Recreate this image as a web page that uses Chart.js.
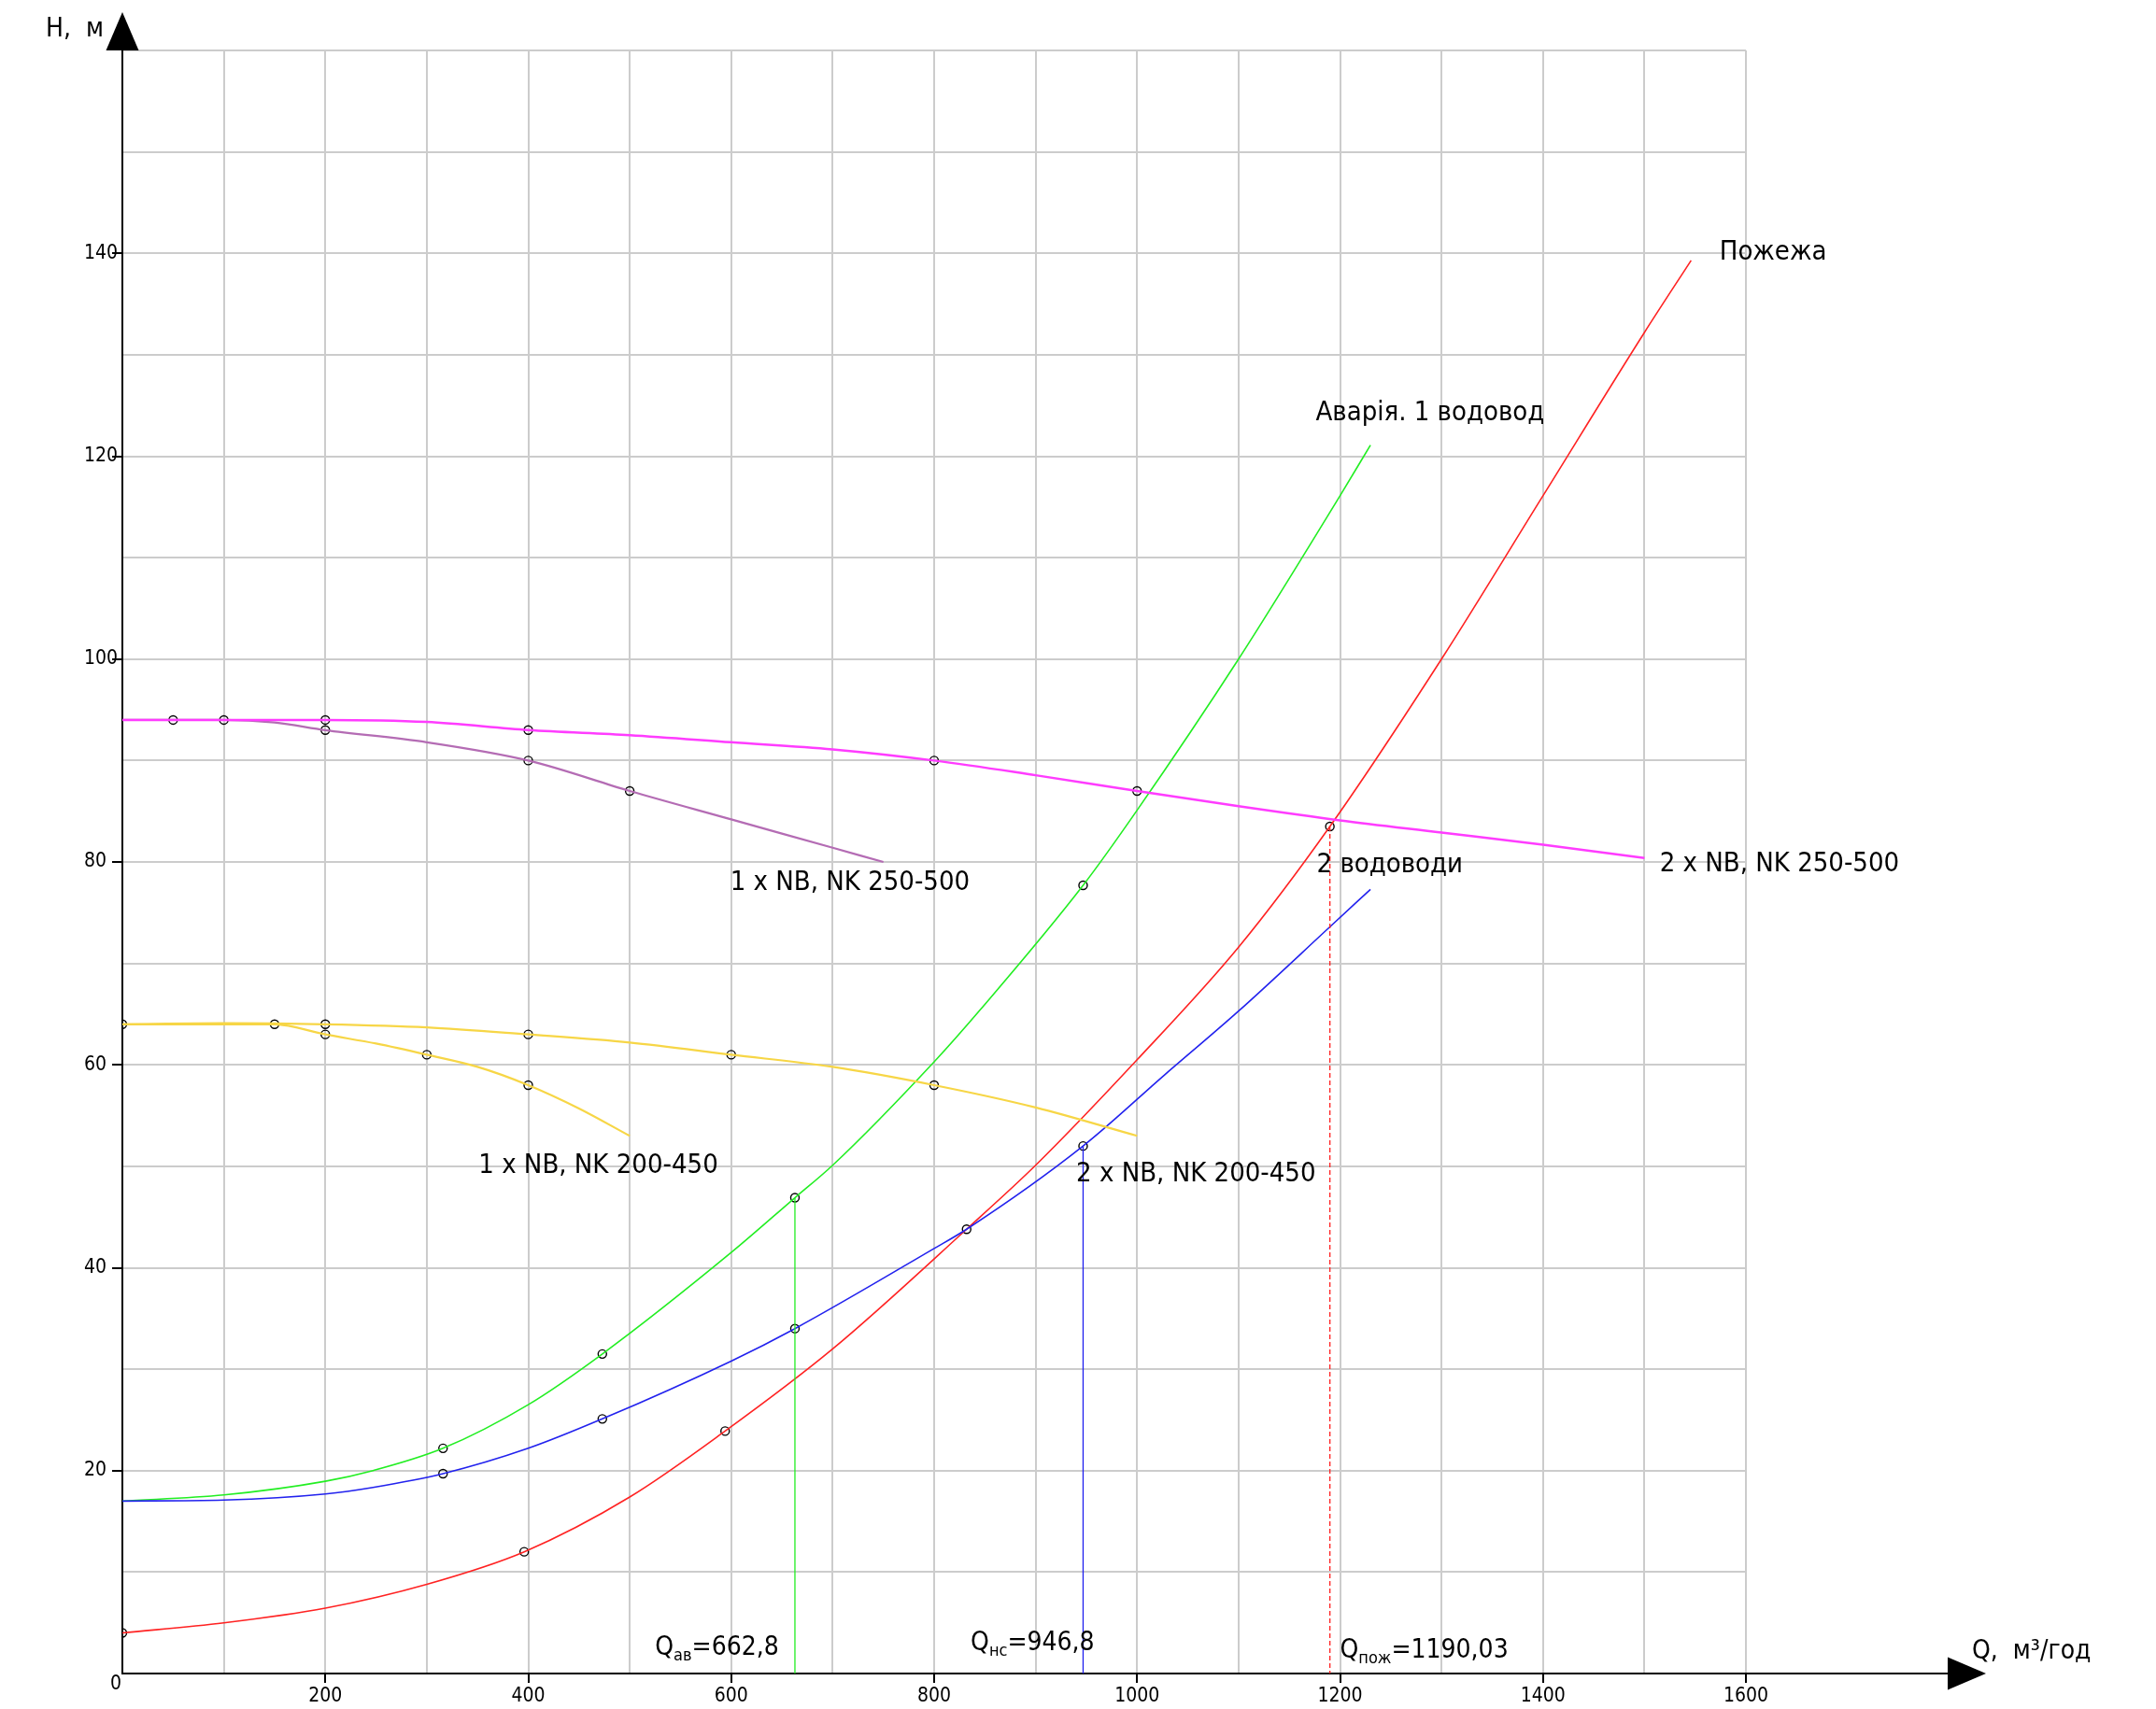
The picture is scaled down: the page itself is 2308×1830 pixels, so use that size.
<!DOCTYPE html>
<html>
<head>
<meta charset="utf-8">
<script src="https://cdn.jsdelivr.net/npm/chart.js@4.4.1/dist/chart.umd.min.js"></script>
<style>
  body { margin: 0; background: #fff; }
  #wrap { width: 2308px; height: 1830px; }
</style>
</head>
<body>
<div id="wrap"><canvas id="chart" width="2308" height="1830"></canvas></div>
<script>
// Q, м3/год  ->  H, м
const pozhezhaQ = [0, 100, 200, 300, 396, 500, 594, 700, 832, 900, 1000, 1100, 1190, 1300, 1400, 1500, 1546];
const pozhezhaH = [4.0, 5.0, 6.45, 8.8, 12.0, 17.4, 23.9, 32.0, 43.8, 50.1, 60.5, 71.6, 83.5, 100.0, 116.1, 132.2, 139.3];

const avariyaQ = [0, 100, 200, 247, 316, 400, 473, 600, 662.8, 700, 800, 846, 946.8, 1000, 1100, 1200, 1230];
const avariyaH = [17.0, 17.6, 18.95, 20.0, 22.2, 26.5, 31.5, 41.5, 46.9, 50.1, 60.3, 65.5, 77.7, 85.1, 100.0, 116.1, 121.1];

const dvaVodovodyQ = [0, 100, 200, 247, 316, 400, 473, 600, 662.8, 800, 832, 946.8, 1027, 1100, 1190, 1230];
const dvaVodovodyH = [17.0, 17.1, 17.7, 18.35, 19.7, 22.2, 25.1, 30.8, 34.0, 41.9, 43.8, 52.0, 59.0, 65.3, 73.6, 77.3];

const nk250x2Q = [0, 100, 200, 300, 400, 500, 600, 700, 800, 900, 1000, 1100, 1200, 1300, 1400, 1500];
const nk250x2H = [94, 94, 94, 93.8, 93, 92.5, 91.8, 91.1, 90, 88.55, 87, 85.5, 84.1, 82.9, 81.7, 80.4];

const nk250x1Q = [0, 50, 100, 150, 200, 300, 400, 500, 600, 700, 750];
const nk250x1H = [94, 94, 94, 93.75, 93, 91.8, 90, 87, 84.2, 81.4, 80.0];

const nk200x2Q = [0, 100, 200, 300, 400, 500, 600, 700, 800, 900, 1000];
const nk200x2H = [64, 64.1, 64, 63.7, 63, 62.2, 61, 59.8, 58, 55.8, 53.0];

const nk200x1Q = [0, 150, 200, 250, 300, 350, 400, 450, 500];
const nk200x1H = [64, 64, 63, 62.1, 61, 59.8, 58, 55.7, 53.0];

// circled points
const markerQ = [50, 100, 200, 200, 400, 400, 500, 800, 1000,
                 0, 150, 200, 200, 300, 400, 400, 600, 800,
                 316, 473, 662.8, 946.8,
                 316, 473, 662.8, 832, 946.8,
                 0, 396, 594, 1190];
const markerH = [94, 94, 94, 93, 93, 90, 87, 90, 87,
                 64, 64, 64, 63, 61, 63, 58, 61, 58,
                 22.2, 31.5, 46.9, 77.7,
                 19.7, 25.1, 34.0, 43.8, 52.0,
                 4.0, 12.0, 23.9, 83.5];

// operating points: Q_ав, Q_нс, Q_пож
const opNames = ['ав', 'нс', 'пож'];
const opQ = [662.8, 946.8, 1190.03];
const opH = [46.9, 52.0, 83.5];

const yTicksLabeled = [20, 40, 60, 80, 100, 120, 140];
const xTicksLabeled = [200, 400, 600, 800, 1000, 1200, 1400, 1600];

const FONT = "'DejaVu Sans Condensed', 'Liberation Sans Narrow', 'DejaVu Sans', sans-serif";

function pts(qs, hs) {
    return qs.map((q, i) => ({ x: q, y: hs[i] }));
}

function curve(qs, hs, color, width) {
    return {
        data: pts(qs, hs),
        showLine: true,
        borderColor: color,
        borderWidth: width,
        pointRadius: 0,
        cubicInterpolationMode: 'monotone',
        fill: false
    };
}

function dropLine(i, color, dash) {
    return {
        data: [{ x: opQ[i], y: opH[i] }, { x: opQ[i], y: 0 }],
        showLine: true,
        borderColor: color,
        borderWidth: 1.3,
        borderDash: dash,
        pointRadius: 0
    };
}

// text notes, anchored in data units (left end of baseline)
const curveNotes = [
    { text: 'Пожежа', q: 1574, h: 139.4 },
    { text: 'Аварія. 1 водовод', q: 1176, h: 123.5 },
    { text: '2 водоводи', q: 1177, h: 79.0 },
    { text: '2 x NB, NK 250-500', q: 1515, h: 79.1 },
    { text: '1 x NB, NK 250-500', q: 599, h: 77.25 },
    { text: '2 x NB, NK 200-450', q: 940, h: 48.5 },
    { text: '1 x NB, NK 200-450', q: 351, h: 49.3 }
];
const opNotePos = [{ q: 525, h: 1.8 }, { q: 836, h: 2.3 }, { q: 1200, h: 1.6 }];

const notesPlugin = {
    id: 'notes',
    afterDraw(chart) {
        const { ctx, chartArea: a, scales: { x, y } } = chart;
        ctx.save();
        ctx.fillStyle = '#000';
        ctx.strokeStyle = '#000';
        ctx.textBaseline = 'alphabetic';
        ctx.textAlign = 'left';

        // axis arrows
        ctx.lineWidth = 2;
        ctx.beginPath();
        ctx.moveTo(a.right, a.bottom);
        ctx.lineTo(a.right + 220, a.bottom);
        ctx.stroke();
        ctx.beginPath();
        ctx.moveTo(a.right + 216, a.bottom - 17.5);
        ctx.lineTo(a.right + 257, a.bottom);
        ctx.lineTo(a.right + 216, a.bottom + 17.5);
        ctx.closePath();
        ctx.fill();
        ctx.beginPath();
        ctx.moveTo(a.left - 17.5, a.top);
        ctx.lineTo(a.left, a.top - 41);
        ctx.lineTo(a.left + 17.5, a.top);
        ctx.closePath();
        ctx.fill();

        // axis titles
        ctx.font = '28px ' + FONT;
        ctx.fillText('H,  м', a.left - 82, a.top - 15);
        ctx.fillText('Q,  м³/год', a.right + 242, a.bottom - 16);
        ctx.font = '21px ' + FONT;
        ctx.fillText('0', a.left - 13, a.bottom + 17);

        // curve names
        ctx.font = '29px ' + FONT;
        curveNotes.forEach(n => {
            ctx.fillText(n.text, x.getPixelForValue(n.q), y.getPixelForValue(n.h));
        });

        // Q_xx = value
        opQ.forEach((q, i) => {
            let px = x.getPixelForValue(opNotePos[i].q);
            const py = y.getPixelForValue(opNotePos[i].h);
            ctx.font = '28px ' + FONT;
            ctx.fillText('Q', px, py);
            px += ctx.measureText('Q').width;
            ctx.font = '18px ' + FONT;
            ctx.fillText(opNames[i], px, py + 6);
            px += ctx.measureText(opNames[i]).width;
            ctx.font = '28px ' + FONT;
            ctx.fillText('=' + String(q).replace('.', ','), px, py);
        });
        ctx.restore();
    }
};

Chart.defaults.font.family = FONT;
Chart.defaults.color = '#000';

new Chart(document.getElementById('chart'), {
    type: 'scatter',
    data: {
        datasets: [
            curve(nk250x2Q, nk250x2H, '#ff3cff', 2.5),
            curve(nk250x1Q, nk250x1H, '#b46cb4', 2.2),
            curve(nk200x2Q, nk200x2H, '#f7d646', 2.2),
            curve(nk200x1Q, nk200x1H, '#f7d646', 2.2),
            dropLine(0, '#22ee22', []),
            dropLine(1, '#2020ee', []),
            dropLine(2, '#ff2020', [5, 3]),
            curve(dvaVodovodyQ, dvaVodovodyH, '#2222ee', 1.6),
            curve(avariyaQ, avariyaH, '#22ee22', 1.6),
            curve(pozhezhaQ, pozhezhaH, '#ff2222', 1.6),
            {
                data: pts(markerQ, markerH),
                pointRadius: 4.5,
                pointBorderWidth: 1.4,
                pointBorderColor: '#000',
                pointBackgroundColor: 'rgba(0,0,0,0)'
            }
        ]
    },
    options: {
        responsive: false,
        animation: false,
        devicePixelRatio: 1,
        layout: { padding: { left: 90, top: 54, right: 439, bottom: 0 } },
        plugins: { legend: { display: false }, tooltip: { enabled: false } },
        scales: {
            x: {
                type: 'linear',
                min: 0,
                max: 1600,
                afterFit: s => { s.height = 38; },
                border: { color: '#000', width: 2 },
                grid: {
                    color: '#cccccc',
                    lineWidth: 2,
                    tickLength: 10,
                    tickWidth: 2,
                    tickColor: c => xTicksLabeled.includes(c.tick.value) ? '#000' : 'rgba(0,0,0,0)'
                },
                ticks: {
                    stepSize: 100,
                    autoSkip: false,
                    maxRotation: 0,
                    padding: 2,
                    font: { size: 21 },
                    callback: v => xTicksLabeled.includes(v) ? String(v) : ''
                }
            },
            y: {
                type: 'linear',
                min: 0,
                max: 160,
                afterFit: s => { s.width = 41; },
                border: { color: '#000', width: 2 },
                grid: {
                    color: '#cccccc',
                    lineWidth: 2,
                    tickLength: 11,
                    tickWidth: 2,
                    tickColor: c => yTicksLabeled.includes(c.tick.value) ? '#000' : 'rgba(0,0,0,0)'
                },
                ticks: {
                    stepSize: 10,
                    autoSkip: false,
                    crossAlign: 'far',
                    font: { size: 21 },
                    callback: v => yTicksLabeled.includes(v) ? String(v) : ''
                }
            }
        }
    },
    plugins: [notesPlugin]
});
</script>
</body>
</html>
